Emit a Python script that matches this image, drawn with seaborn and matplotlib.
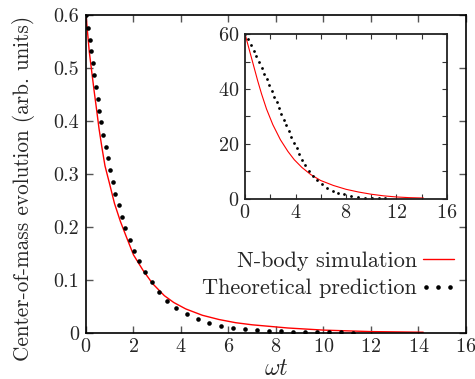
import numpy as np
import pandas as pd
import matplotlib
matplotlib.use('Agg')
import matplotlib.pyplot as plt
import seaborn as sns
from matplotlib.ticker import FuncFormatter, MultipleLocator
from matplotlib.legend_handler import HandlerLine2D

# main panel: N-body simulation (red curve)
sim_t = [0, 0.07, 0.14, 0.25, 0.35, 0.45, 0.55, 0.67, 0.8, 1.0, 1.2, 1.45, 1.7, 2.0, 2.4,
         2.8, 3.3, 3.7, 4.2, 4.9, 5.6, 6.3, 7.0, 8.5, 10.0, 12.0, 14.2]
sim_v = [0.6, 0.565, 0.53, 0.49, 0.454, 0.42, 0.385, 0.35, 0.315, 0.28, 0.244, 0.21, 0.181,
         0.147, 0.118, 0.093, 0.07, 0.057, 0.045, 0.033, 0.025, 0.019, 0.015, 0.009,
         0.005, 0.0022, 0.001]

# main panel: theoretical prediction (dots)
th_t = [0.0, 0.10, 0.16, 0.23, 0.30, 0.35, 0.42, 0.50, 0.56, 0.65, 0.73, 0.83, 0.92, 1.02,
        1.13, 1.22, 1.38, 1.52, 1.66, 1.84, 2.03, 2.24, 2.48, 2.76, 3.07, 3.40, 3.81,
        4.24, 4.70, 5.18, 5.67, 6.18, 6.70, 7.2, 7.72, 8.22, 8.72, 9.24, 9.73, 10.25,
        10.75, 11.25]
th_v = [0.6, 0.576, 0.553, 0.531, 0.509, 0.486, 0.463, 0.441, 0.419, 0.397, 0.374, 0.351,
        0.329, 0.307, 0.284, 0.262, 0.241, 0.219, 0.197, 0.175, 0.155, 0.135, 0.115, 0.095,
        0.077, 0.060, 0.047, 0.035, 0.026, 0.018, 0.013, 0.0094, 0.007, 0.005, 0.0038,
        0.003, 0.0022, 0.0016, 0.0012, 0.0008, 0.0005, 0.0003]

# inset: simulation
ins_sim_t = [0, 0.5, 1.0, 1.3, 1.7, 2.2, 2.8, 3.4, 3.9, 4.5, 5.2, 6.0, 7.0, 8.0,
             9.0, 10.0, 11.0, 12.0, 13.0, 14.15]
ins_sim_v = [60, 51.5, 43.0, 38.3, 32.7, 27.0, 21.5, 17.2, 14.2, 11.4, 8.8, 6.6, 4.8,
             3.4, 2.4, 1.6, 1.0, 0.6, 0.35, 0.2]

# inset: theory
ins_th_t = [0.0, 0.24, 0.48, 0.69, 0.90, 1.11, 1.32, 1.53, 1.72, 1.93, 2.14, 2.33, 2.51, 2.70,
            2.88, 3.07, 3.28, 3.49, 3.67, 3.89, 4.10, 4.31, 4.55, 4.79, 5.08, 5.37, 5.71,
            6.09, 6.51, 6.96, 7.40, 7.88, 8.40, 8.95, 9.50, 10.05, 10.6, 11.1]
ins_th_v = [60, 58.2, 56.1, 54.0, 52.0, 49.9, 47.7, 45.6, 43.5, 41.5, 39.3, 37.2, 35.1, 33.0,
            30.8, 28.8, 26.7, 24.6, 22.4, 20.3, 18.3, 16.2, 14.1, 12.2, 10.2, 8.4, 6.8,
            5.2, 3.9, 2.9, 2.0, 1.5, 1.0, 0.65, 0.4, 0.2, 0.1, 0.05]

sns.set_theme(style='ticks')
plt.rcParams['font.family'] = ['cmr10', 'DejaVu Serif']
plt.rcParams['mathtext.fontset'] = 'cm'
plt.rcParams['axes.formatter.use_mathtext'] = True
plt.rcParams['axes.unicode_minus'] = False

FS = 14.5   # tick labels
LS = 16     # legend

fig = plt.figure(figsize=(4.75, 3.79), dpi=100)
ax = fig.add_axes([0.181, 0.122, 0.800, 0.839])

sim = pd.DataFrame({'t': sim_t, 'v': sim_v})
th = pd.DataFrame({'t': th_t, 'v': th_v})
sns.lineplot(data=sim, x='t', y='v', color='#ff0000', lw=1.0, ax=ax, legend=False)
red = ax.lines[-1]
dots, = ax.plot(th['t'], th['v'], ls='none', marker='o', ms=3.3, color='black', mew=0)

ax.set_xlim(0, 16)
ax.set_ylim(0, 0.6)
ax.xaxis.set_major_locator(MultipleLocator(2))
ax.yaxis.set_major_locator(MultipleLocator(0.1))
ax.yaxis.set_major_formatter(FuncFormatter(lambda v, p: '%g' % round(v, 2)))
ax.tick_params(direction='in', length=5, width=1, top=True, right=True, labelsize=FS,
               color='#555555')
ax.tick_params(axis='y', pad=5)
ax.tick_params(axis='x', pad=4)
for s in ax.spines.values():
    s.set_linewidth(1.2)
    s.set_color('black')
ax.set_xlabel(r'$\omega t$', fontsize=17, labelpad=1)
ax.set_ylabel('Center-of-mass evolution (arb. units)', fontsize=15.3)
ax.yaxis.set_label_coords(-0.135, 0.455)

ax.legend([red, dots], ['N-body simulation', 'Theoretical prediction'],
          loc='lower right', bbox_to_anchor=(0.968, 0.108), frameon=False,
          markerfirst=False, handlelength=1.4, handletextpad=0.25,
          labelspacing=0.35, fontsize=LS, borderaxespad=0, borderpad=0,
          handler_map={red: HandlerLine2D(numpoints=1),
                       dots: HandlerLine2D(numpoints=3, marker_pad=0.15)})

# inset
ax2 = fig.add_axes([0.516, 0.476, 0.4246, 0.4335])
isim = pd.DataFrame({'t': ins_sim_t, 'v': ins_sim_v})
sns.lineplot(data=isim, x='t', y='v', color='#ff0000', lw=0.8, ax=ax2)
ax2.plot(ins_th_t, ins_th_v, ls='none', marker='o', ms=2.0, color='black', mew=0)
ax2.set_xlim(0, 16)
ax2.set_ylim(0, 60)
ax2.xaxis.set_major_locator(MultipleLocator(4))
ax2.xaxis.set_minor_locator(MultipleLocator(2))
ax2.yaxis.set_major_locator(MultipleLocator(20))
ax2.yaxis.set_minor_locator(MultipleLocator(10))
ax2.tick_params(which='both', direction='in', length=3.5, width=0.8, top=True, right=True,
                labelsize=FS, color='#333333')
ax2.tick_params(axis='y', pad=4)
ax2.tick_params(axis='x', pad=4)
ax2.set_xlabel('')
ax2.set_ylabel('')
for s in ax2.spines.values():
    s.set_linewidth(1.3)
    s.set_color('#222222')

fig.savefig('out.png', dpi=100)
